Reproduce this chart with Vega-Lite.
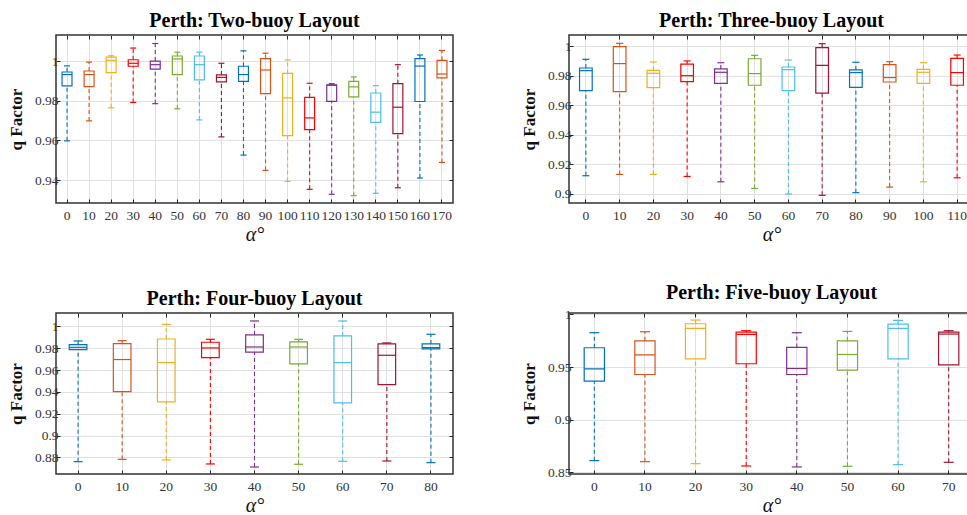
{
  "$schema": "https://vega.github.io/schema/vega-lite/v6.json",
  "padding": {"left": 6, "top": 9, "right": 0, "bottom": 0},
  "datasets": {
    "two": [
      {"alpha": 0, "low": 0.9598, "q1": 0.9876, "med": 0.9933, "q3": 0.9946, "high": 0.9977},
      {"alpha": 10, "low": 0.9699, "q1": 0.9872, "med": 0.9933, "q3": 0.9951, "high": 0.9996},
      {"alpha": 20, "low": 0.9765, "q1": 0.9943, "med": 1.0005, "q3": 1.0021, "high": 1.0028},
      {"alpha": 30, "low": 0.9792, "q1": 0.9975, "med": 0.999, "q3": 1.0008, "high": 1.0067},
      {"alpha": 40, "low": 0.9786, "q1": 0.9961, "med": 0.9983, "q3": 1.0001, "high": 1.009},
      {"alpha": 50, "low": 0.976, "q1": 0.9933, "med": 1.0012, "q3": 1.0027, "high": 1.0046},
      {"alpha": 60, "low": 0.9704, "q1": 0.9906, "med": 0.9983, "q3": 1.0027, "high": 1.0046},
      {"alpha": 70, "low": 0.9618, "q1": 0.9896, "med": 0.9919, "q3": 0.9931, "high": 0.999},
      {"alpha": 80, "low": 0.9526, "q1": 0.9899, "med": 0.9933, "q3": 0.9975, "high": 1.0053},
      {"alpha": 90, "low": 0.9449, "q1": 0.9837, "med": 0.9956, "q3": 1.0014, "high": 1.0041},
      {"alpha": 100, "low": 0.9393, "q1": 0.9624, "med": 0.9815, "q3": 0.9939, "high": 1.0007},
      {"alpha": 110, "low": 0.9353, "q1": 0.9655, "med": 0.9714, "q3": 0.9818, "high": 0.9889},
      {"alpha": 120, "low": 0.9328, "q1": 0.9798, "med": 0.9879, "q3": 0.9881, "high": 0.9887},
      {"alpha": 130, "low": 0.9321, "q1": 0.982, "med": 0.9871, "q3": 0.9899, "high": 0.9921},
      {"alpha": 140, "low": 0.9333, "q1": 0.9691, "med": 0.9743, "q3": 0.984, "high": 0.9877},
      {"alpha": 150, "low": 0.9361, "q1": 0.9635, "med": 0.9768, "q3": 0.9887, "high": 0.9983},
      {"alpha": 160, "low": 0.941, "q1": 0.9797, "med": 0.9976, "q3": 1.0014, "high": 1.0032},
      {"alpha": 170, "low": 0.9489, "q1": 0.9916, "med": 0.9936, "q3": 1.0005, "high": 1.0055}
    ],
    "three": [
      {"alpha": 0, "low": 0.9122, "q1": 0.970, "med": 0.9835, "q3": 0.9853, "high": 0.9912},
      {"alpha": 10, "low": 0.9131, "q1": 0.9693, "med": 0.9883, "q3": 0.9998, "high": 1.002},
      {"alpha": 20, "low": 0.9131, "q1": 0.972, "med": 0.9817, "q3": 0.9837, "high": 0.9894},
      {"alpha": 30, "low": 0.9117, "q1": 0.9761, "med": 0.9801, "q3": 0.988, "high": 0.9901},
      {"alpha": 40, "low": 0.9081, "q1": 0.9749, "med": 0.9824, "q3": 0.9847, "high": 0.9889},
      {"alpha": 50, "low": 0.9036, "q1": 0.9736, "med": 0.9815, "q3": 0.9916, "high": 0.9939},
      {"alpha": 60, "low": 0.8998, "q1": 0.970, "med": 0.9842, "q3": 0.986, "high": 0.9907},
      {"alpha": 70, "low": 0.8989, "q1": 0.9682, "med": 0.9871, "q3": 0.9991, "high": 1.0018},
      {"alpha": 80, "low": 0.9007, "q1": 0.9722, "med": 0.9822, "q3": 0.984, "high": 0.9892},
      {"alpha": 90, "low": 0.9045, "q1": 0.9758, "med": 0.9788, "q3": 0.9876, "high": 0.9896},
      {"alpha": 100, "low": 0.9081, "q1": 0.9749, "med": 0.9824, "q3": 0.9844, "high": 0.9889},
      {"alpha": 110, "low": 0.9108, "q1": 0.9736, "med": 0.9822, "q3": 0.9919, "high": 0.9941}
    ],
    "four": [
      {"alpha": 0, "low": 0.8761, "q1": 0.9787, "med": 0.9808, "q3": 0.9833, "high": 0.9866},
      {"alpha": 10, "low": 0.8782, "q1": 0.9403, "med": 0.9696, "q3": 0.9842, "high": 0.9869},
      {"alpha": 20, "low": 0.8776, "q1": 0.9309, "med": 0.9668, "q3": 0.9884, "high": 1.0018},
      {"alpha": 30, "low": 0.874, "q1": 0.9714, "med": 0.9802, "q3": 0.9854, "high": 0.9881},
      {"alpha": 40, "low": 0.8712, "q1": 0.9763, "med": 0.9811, "q3": 0.9921, "high": 1.0049},
      {"alpha": 50, "low": 0.8737, "q1": 0.9656, "med": 0.9811, "q3": 0.9857, "high": 0.9881},
      {"alpha": 60, "low": 0.8764, "q1": 0.930, "med": 0.9668, "q3": 0.9912, "high": 1.0049},
      {"alpha": 70, "low": 0.8767, "q1": 0.9467, "med": 0.9735, "q3": 0.9839, "high": 0.9848},
      {"alpha": 80, "low": 0.8752, "q1": 0.9793, "med": 0.9805, "q3": 0.9839, "high": 0.9927}
    ],
    "five": [
      {"alpha": 0, "low": 0.8611, "q1": 0.9366, "med": 0.9483, "q3": 0.9683, "high": 0.9826},
      {"alpha": 10, "low": 0.8601, "q1": 0.9429, "med": 0.9616, "q3": 0.9749, "high": 0.9835},
      {"alpha": 20, "low": 0.8582, "q1": 0.9578, "med": 0.9867, "q3": 0.9911, "high": 0.9946},
      {"alpha": 30, "low": 0.856, "q1": 0.9531, "med": 0.981, "q3": 0.9832, "high": 0.9845},
      {"alpha": 40, "low": 0.8551, "q1": 0.9429, "med": 0.9486, "q3": 0.9686, "high": 0.9826},
      {"alpha": 50, "low": 0.8557, "q1": 0.947, "med": 0.9619, "q3": 0.9749, "high": 0.9838},
      {"alpha": 60, "low": 0.8573, "q1": 0.9578, "med": 0.9867, "q3": 0.9908, "high": 0.9943},
      {"alpha": 70, "low": 0.8595, "q1": 0.9521, "med": 0.9813, "q3": 0.9832, "high": 0.9845}
    ]
  },
  "columns": 2,
  "bounds": "flush",
  "align": "each",
  "spacing": {"row": 110, "column": 116},
  "concat": [
    {
      "width": 397, "height": 168,
      "data": {"name": "two"},
      "title": "Perth: Two-buoy Layout",
      "encoding": {
        "x": {"field": "alpha", "type": "ordinal", "scale": {"paddingInner": 0, "paddingOuter": 0}, "axis": null},
        "color": {"field": "alpha", "type": "nominal", "legend": null, "scale": {"range": ["#0072BD", "#D95319", "#EDB120", "#FF0000", "#7E2F8E", "#77AC30", "#4DBEEE", "#A2142F"]}}
      },
      "layer": [
        {"mark": {"type": "rule", "strokeDash": [4, 3], "strokeWidth": 1.1},
         "encoding": {
           "x": {"field": "alpha", "type": "ordinal", "scale": {"paddingInner": 0, "paddingOuter": 0}, "axis": {"title": "α°", "grid": true, "labelAngle": 0}},
           "y": {"field": "low", "type": "quantitative", "scale": {"domain": [0.9284, 1.0133], "nice": false, "zero": false}, "axis": {"title": "q Factor", "grid": true, "values": [0.94, 0.96, 0.98, 1], "format": ".2~f"}},
           "y2": {"field": "q1"}}},
        {"mark": {"type": "rule", "strokeDash": [4, 3], "strokeWidth": 1.1},
         "encoding": {
           "x": {"field": "alpha", "type": "ordinal", "scale": {"paddingInner": 0, "paddingOuter": 0}, "axis": {"orient": "top", "title": null, "labels": false, "grid": false}},
           "y": {"field": "q3", "type": "quantitative", "scale": {"domain": [0.9284, 1.0133], "nice": false, "zero": false}, "axis": {"orient": "right", "title": null, "labels": false, "grid": false, "values": [0.94, 0.96, 0.98, 1]}},
           "y2": {"field": "high"}}},
        {"mark": {"type": "tick", "size": 6, "thickness": 1.2, "opacity": 1},
         "encoding": {"y": {"field": "low", "type": "quantitative", "scale": {"domain": [0.9284, 1.0133], "nice": false, "zero": false}, "axis": null}}},
        {"mark": {"type": "tick", "size": 6, "thickness": 1.2, "opacity": 1},
         "encoding": {"y": {"field": "high", "type": "quantitative", "scale": {"domain": [0.9284, 1.0133], "nice": false, "zero": false}, "axis": null}}},
        {"mark": {"type": "bar", "filled": false, "width": {"band": 0.45}, "strokeWidth": 1.2},
         "encoding": {"y": {"field": "q1", "type": "quantitative", "scale": {"domain": [0.9284, 1.0133], "nice": false, "zero": false}, "axis": null}, "y2": {"field": "q3"}}},
        {"mark": {"type": "tick", "size": 10, "thickness": 1.2, "opacity": 1},
         "encoding": {"y": {"field": "med", "type": "quantitative", "scale": {"domain": [0.9284, 1.0133], "nice": false, "zero": false}, "axis": null}}}
      ],
      "resolve": {"axis": {"x": "independent", "y": "independent"}}
    },
    {
      "width": 405, "height": 168,
      "data": {"name": "three"},
      "title": "Perth: Three-buoy Layout",
      "encoding": {
        "x": {"field": "alpha", "type": "ordinal", "scale": {"paddingInner": 0, "paddingOuter": 0}, "axis": null},
        "color": {"field": "alpha", "type": "nominal", "legend": null, "scale": {"range": ["#0072BD", "#D95319", "#EDB120", "#FF0000", "#7E2F8E", "#77AC30", "#4DBEEE", "#A2142F"]}}
      },
      "layer": [
        {"mark": {"type": "rule", "strokeDash": [4, 3], "strokeWidth": 1.1},
         "encoding": {
           "x": {"field": "alpha", "type": "ordinal", "scale": {"paddingInner": 0, "paddingOuter": 0}, "axis": {"title": "α°", "grid": true, "labelAngle": 0}},
           "y": {"field": "low", "type": "quantitative", "scale": {"domain": [0.8937, 1.0077], "nice": false, "zero": false}, "axis": {"title": "q Factor", "grid": true, "values": [0.9, 0.92, 0.94, 0.96, 0.98, 1], "format": ".2~f"}},
           "y2": {"field": "q1"}}},
        {"mark": {"type": "rule", "strokeDash": [4, 3], "strokeWidth": 1.1},
         "encoding": {
           "x": {"field": "alpha", "type": "ordinal", "scale": {"paddingInner": 0, "paddingOuter": 0}, "axis": {"orient": "top", "title": null, "labels": false, "grid": false}},
           "y": {"field": "q3", "type": "quantitative", "scale": {"domain": [0.8937, 1.0077], "nice": false, "zero": false}, "axis": {"orient": "right", "title": null, "labels": false, "grid": false, "values": [0.9, 0.92, 0.94, 0.96, 0.98, 1]}},
           "y2": {"field": "high"}}},
        {"mark": {"type": "tick", "size": 7, "thickness": 1.2, "opacity": 1},
         "encoding": {"y": {"field": "low", "type": "quantitative", "scale": {"domain": [0.8937, 1.0077], "nice": false, "zero": false}, "axis": null}}},
        {"mark": {"type": "tick", "size": 7, "thickness": 1.2, "opacity": 1},
         "encoding": {"y": {"field": "high", "type": "quantitative", "scale": {"domain": [0.8937, 1.0077], "nice": false, "zero": false}, "axis": null}}},
        {"mark": {"type": "bar", "filled": false, "width": {"band": 0.375}, "strokeWidth": 1.2},
         "encoding": {"y": {"field": "q1", "type": "quantitative", "scale": {"domain": [0.8937, 1.0077], "nice": false, "zero": false}, "axis": null}, "y2": {"field": "q3"}}},
        {"mark": {"type": "tick", "size": 12.7, "thickness": 1.2, "opacity": 1},
         "encoding": {"y": {"field": "med", "type": "quantitative", "scale": {"domain": [0.8937, 1.0077], "nice": false, "zero": false}, "axis": null}}}
      ],
      "resolve": {"axis": {"x": "independent", "y": "independent"}}
    },
    {
      "width": 397, "height": 161,
      "data": {"name": "four"},
      "title": "Perth: Four-buoy Layout",
      "encoding": {
        "x": {"field": "alpha", "type": "ordinal", "scale": {"paddingInner": 0, "paddingOuter": 0}, "axis": null},
        "color": {"field": "alpha", "type": "nominal", "legend": null, "scale": {"range": ["#0072BD", "#D95319", "#EDB120", "#FF0000", "#7E2F8E", "#77AC30", "#4DBEEE", "#A2142F"]}}
      },
      "layer": [
        {"mark": {"type": "rule", "strokeDash": [4, 3], "strokeWidth": 1.1},
         "encoding": {
           "x": {"field": "alpha", "type": "ordinal", "scale": {"paddingInner": 0, "paddingOuter": 0}, "axis": {"title": "α°", "grid": true, "labelAngle": 0}},
           "y": {"field": "low", "type": "quantitative", "scale": {"domain": [0.8648, 1.0122], "nice": false, "zero": false}, "axis": {"title": "q Factor", "grid": true, "values": [0.88, 0.9, 0.92, 0.94, 0.96, 0.98, 1], "format": ".2~f"}},
           "y2": {"field": "q1"}}},
        {"mark": {"type": "rule", "strokeDash": [4, 3], "strokeWidth": 1.1},
         "encoding": {
           "x": {"field": "alpha", "type": "ordinal", "scale": {"paddingInner": 0, "paddingOuter": 0}, "axis": {"orient": "top", "title": null, "labels": false, "grid": false}},
           "y": {"field": "q3", "type": "quantitative", "scale": {"domain": [0.8648, 1.0122], "nice": false, "zero": false}, "axis": {"orient": "right", "title": null, "labels": false, "grid": false, "values": [0.88, 0.9, 0.92, 0.94, 0.96, 0.98, 1]}},
           "y2": {"field": "high"}}},
        {"mark": {"type": "tick", "size": 9, "thickness": 1.2, "opacity": 1},
         "encoding": {"y": {"field": "low", "type": "quantitative", "scale": {"domain": [0.8648, 1.0122], "nice": false, "zero": false}, "axis": null}}},
        {"mark": {"type": "tick", "size": 9, "thickness": 1.2, "opacity": 1},
         "encoding": {"y": {"field": "high", "type": "quantitative", "scale": {"domain": [0.8648, 1.0122], "nice": false, "zero": false}, "axis": null}}},
        {"mark": {"type": "bar", "filled": false, "width": {"band": 0.4}, "strokeWidth": 1.2},
         "encoding": {"y": {"field": "q1", "type": "quantitative", "scale": {"domain": [0.8648, 1.0122], "nice": false, "zero": false}, "axis": null}, "y2": {"field": "q3"}}},
        {"mark": {"type": "tick", "size": 17.6, "thickness": 1.2, "opacity": 1},
         "encoding": {"y": {"field": "med", "type": "quantitative", "scale": {"domain": [0.8648, 1.0122], "nice": false, "zero": false}, "axis": null}}}
      ],
      "resolve": {"axis": {"x": "independent", "y": "independent"}}
    },
    {
      "width": 405, "height": 161,
      "data": {"name": "five"},
      "title": "Perth: Five-buoy Layout",
      "encoding": {
        "x": {"field": "alpha", "type": "ordinal", "scale": {"paddingInner": 0, "paddingOuter": 0}, "axis": null},
        "color": {"field": "alpha", "type": "nominal", "legend": null, "scale": {"range": ["#0072BD", "#D95319", "#EDB120", "#FF0000", "#7E2F8E", "#77AC30", "#4DBEEE", "#A2142F"]}}
      },
      "layer": [
        {"mark": {"type": "rule", "strokeDash": [4, 3], "strokeWidth": 1.1},
         "encoding": {
           "x": {"field": "alpha", "type": "ordinal", "scale": {"paddingInner": 0, "paddingOuter": 0}, "axis": {"title": "α°", "grid": true, "labelAngle": 0}},
           "y": {"field": "low", "type": "quantitative", "scale": {"domain": [0.8484, 1.0013], "nice": false, "zero": false}, "axis": {"title": "q Factor", "grid": true, "values": [0.85, 0.9, 0.95, 1], "format": ".2~f"}},
           "y2": {"field": "q1"}}},
        {"mark": {"type": "rule", "strokeDash": [4, 3], "strokeWidth": 1.1},
         "encoding": {
           "x": {"field": "alpha", "type": "ordinal", "scale": {"paddingInner": 0, "paddingOuter": 0}, "axis": {"orient": "top", "title": null, "labels": false, "grid": false}},
           "y": {"field": "q3", "type": "quantitative", "scale": {"domain": [0.8484, 1.0013], "nice": false, "zero": false}, "axis": {"orient": "right", "title": null, "labels": false, "grid": false, "values": [0.85, 0.9, 0.95, 1]}},
           "y2": {"field": "high"}}},
        {"mark": {"type": "tick", "size": 10, "thickness": 1.2, "opacity": 1},
         "encoding": {"y": {"field": "low", "type": "quantitative", "scale": {"domain": [0.8484, 1.0013], "nice": false, "zero": false}, "axis": null}}},
        {"mark": {"type": "tick", "size": 10, "thickness": 1.2, "opacity": 1},
         "encoding": {"y": {"field": "high", "type": "quantitative", "scale": {"domain": [0.8484, 1.0013], "nice": false, "zero": false}, "axis": null}}},
        {"mark": {"type": "bar", "filled": false, "width": {"band": 0.4}, "strokeWidth": 1.2},
         "encoding": {"y": {"field": "q1", "type": "quantitative", "scale": {"domain": [0.8484, 1.0013], "nice": false, "zero": false}, "axis": null}, "y2": {"field": "q3"}}},
        {"mark": {"type": "tick", "size": 20.2, "thickness": 1.2, "opacity": 1},
         "encoding": {"y": {"field": "med", "type": "quantitative", "scale": {"domain": [0.8484, 1.0013], "nice": false, "zero": false}, "axis": null}}}
      ],
      "resolve": {"axis": {"x": "independent", "y": "independent"}}
    }
  ],
  "config": {
    "font": "Liberation Serif",
    "view": {"stroke": "#333333", "strokeWidth": 1.5},
    "axis": {
      "domain": false,
      "tickColor": "#262626",
      "tickSize": -4,
      "tickWidth": 1,
      "labelFont": "Liberation Serif",
      "labelFontSize": 13.5,
      "labelColor": "#333333",
      "gridColor": "#e0e0e0",
      "gridWidth": 1,
      "titleFont": "Liberation Serif",
      "titleColor": "#111111"
    },
    "axisX": {"titleFontSize": 20, "titleFontStyle": "italic", "titleFontWeight": "normal", "titlePadding": 3, "labelPadding": 9},
    "axisY": {"titleFontSize": 17, "titleFontWeight": "bold", "titlePadding": 9, "labelPadding": 2},
    "title": {"font": "Liberation Serif", "fontSize": 20, "fontWeight": "bold", "color": "#000000", "anchor": "middle", "offset": 4}
  }
}
